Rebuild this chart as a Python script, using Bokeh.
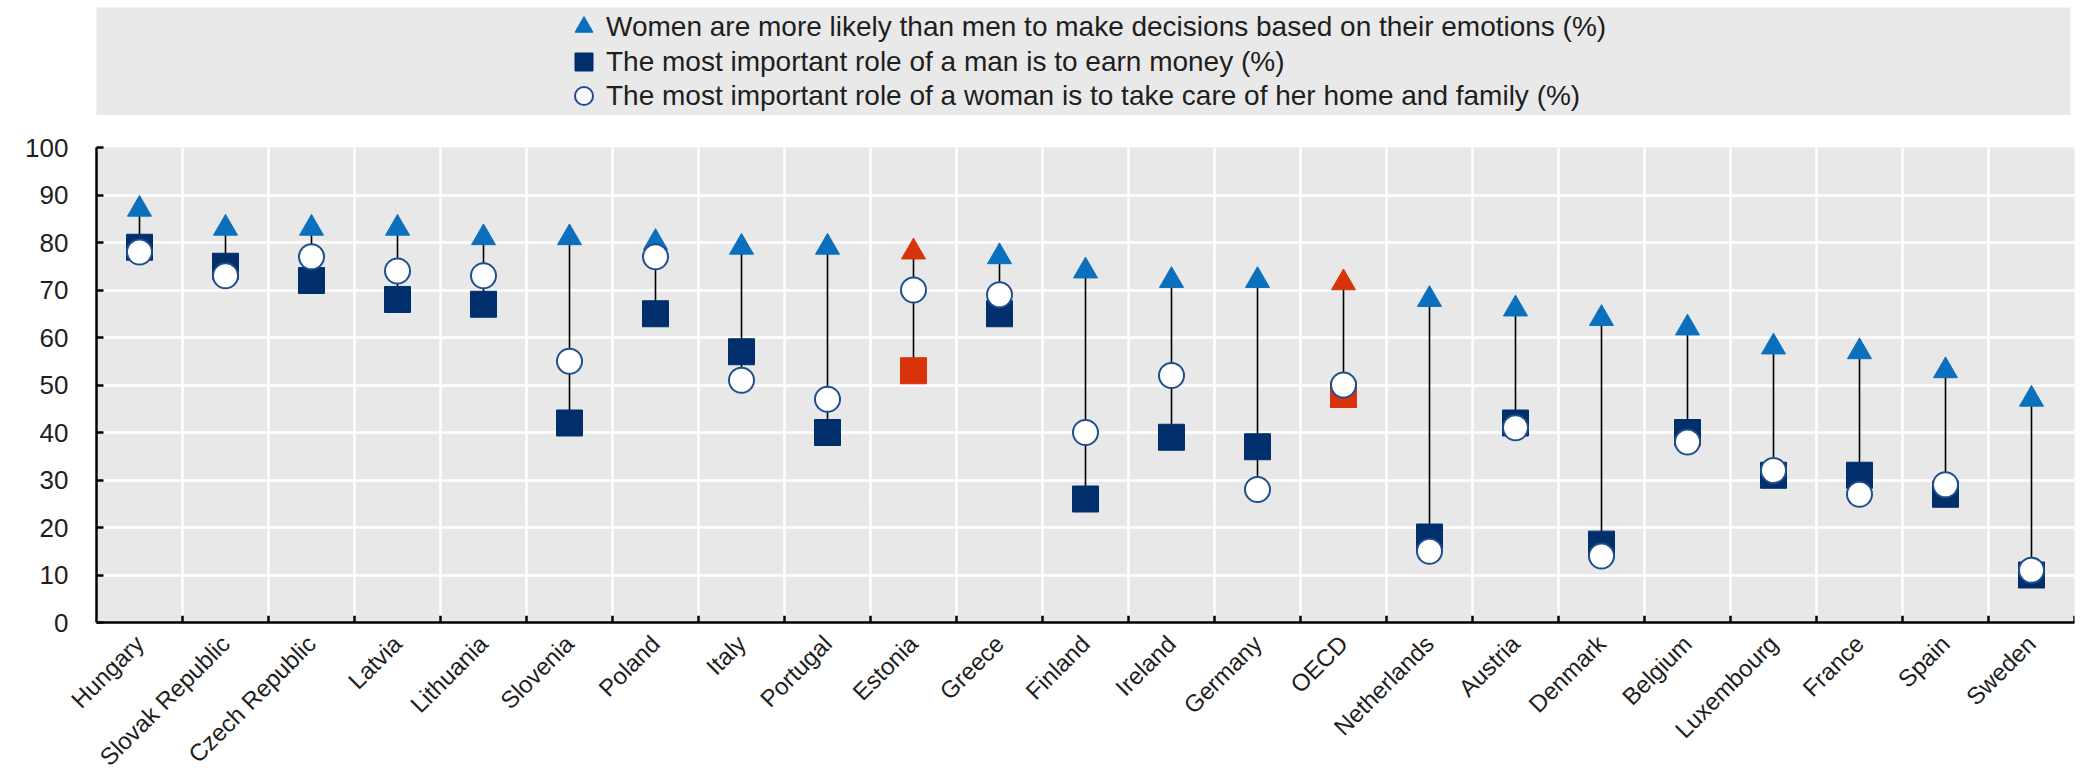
from bokeh.plotting import figure
from bokeh.models import Range1d, FixedTicker, Legend, LegendItem, ColumnDataSource
from bokeh.layouts import column
from bokeh.embed import file_html
from bokeh.resources import INLINE

# ---------------- data ----------------
countries = ["Hungary", "Slovak Republic", "Czech Republic", "Latvia", "Lithuania",
             "Slovenia", "Poland", "Italy", "Portugal", "Estonia", "Greece", "Finland",
             "Ireland", "Germany", "OECD", "Netherlands", "Austria", "Denmark",
             "Belgium", "Luxembourg", "France", "Spain", "Sweden"]
emotions = [87, 83, 83, 83, 81, 81, 80, 79, 79, 78, 77, 74, 72, 72, 71.5, 68, 66, 64,
            62, 58, 57, 53, 47]
man_earn = [79, 75, 72, 68, 67, 42, 65, 57, 40, 53, 65, 26, 39, 37, 48, 18, 42, 16.5,
            40, 31, 31, 27, 10]
woman_home = [78, 73, 77, 74, 73, 55, 77, 51, 47, 70, 69, 40, 52, 28, 50, 15, 41, 14,
              38, 32, 27, 29, 11]
highlight = ["Estonia", "OECD"]
y_ticks = [0, 10, 20, 30, 40, 50, 60, 70, 80, 90, 100]
legend_labels = [
    "Women are more likely than men to make decisions based on their emotions (%)",
    "The most important role of a man is to earn money (%)",
    "The most important role of a woman is to take care of her home and family (%)",
]

# ---------------- styles ----------------
FONT = "Liberation Sans"
TXT = "#1e1e1e"
BLUE = "#0a6fbd"
NAVY = "#002f6c"
RED = "#d8330a"
CIRC_LINE = "#1f4e8c"
BG = "#e8e8e8"

n = len(countries)
xs = list(range(n))
low = [min(a, b) for a, b in zip(man_earn, woman_home)]
tri_color = [RED if c in highlight else BLUE for c in countries]
sq_color = [RED if c in highlight else NAVY for c in countries]

src = ColumnDataSource(dict(x=xs, emo=emotions, man=man_earn, woman=woman_home,
                            low=low, tri_color=tri_color, sq_color=sq_color))

# ---------------- main chart ----------------
p = figure(frame_width=1978, frame_height=475,
           x_range=Range1d(-0.5, n - 0.5), y_range=Range1d(0, 100),
           output_backend="svg", toolbar_location=None,
           min_border_left=92, min_border_right=6, min_border_top=32, min_border_bottom=149,
           background_fill_color=BG, border_fill_color="white", outline_line_color=None)

p.xgrid.ticker = FixedTicker(ticks=[i + 0.5 for i in range(n - 1)])
p.ygrid.ticker = FixedTicker(ticks=y_ticks)
for g in (p.xgrid, p.ygrid):
    g.grid_line_color = "white"
    g.grid_line_width = 2.5

xa = p.xaxis[0]
xa.ticker = FixedTicker(ticks=xs)
xa.major_label_overrides = {i: c for i, c in zip(xs, countries)}
xa.major_label_orientation = 0.785
xa.major_tick_line_color = None
xa.major_tick_in = 0
xa.major_tick_out = 0
xa.minor_tick_line_color = None
xa.minor_tick_out = 0
xa.axis_line_color = "black"
xa.axis_line_width = 2.5
xa.major_label_text_font = FONT
xa.major_label_text_font_size = "24px"
xa.major_label_text_color = TXT
xa.major_label_standoff = 17

ya = p.yaxis[0]
ya.ticker = FixedTicker(ticks=y_ticks)
ya.major_tick_in = 7
ya.major_tick_out = 0
ya.minor_tick_out = 0
ya.major_tick_line_width = 2.5
ya.major_tick_line_color = "black"
ya.minor_tick_line_color = None
ya.axis_line_color = "black"
ya.axis_line_width = 2.5
ya.major_label_text_font = FONT
ya.major_label_text_font_size = "26px"
ya.major_label_text_color = TXT
ya.major_label_standoff = 28

# category boundary ticks on the x axis (pointing up)
bounds = [i + 0.5 for i in range(n)]
p.segment(x0=bounds, y0=[0] * n, x1=bounds, y1=[1.4] * n, line_color="black", line_width=2.5)

# connectors and markers
p.segment(x0="x", y0="emo", x1="x", y1="low", source=src, line_color="black", line_width=1.6)
p.scatter("x", "emo", source=src, marker="triangle", size=24,
          fill_color="tri_color", line_color="tri_color")
p.scatter("x", "man", source=src, marker="square", size=26,
          fill_color="sq_color", line_color="sq_color")
p.scatter("x", "woman", source=src, marker="circle", size=25,
          fill_color="white", line_color=CIRC_LINE, line_width=2)

# ---------------- legend box ----------------
lg = figure(width=2076, height=115, x_range=Range1d(0, 1), y_range=Range1d(0, 1),
            output_backend="svg", toolbar_location=None,
            x_axis_type=None, y_axis_type=None,
            min_border_left=96, min_border_right=0, min_border_top=7, min_border_bottom=0,
            background_fill_color="#e9e9e9", border_fill_color="white", outline_line_color=None)
r1 = lg.scatter(x=[-5], y=[-5], marker="triangle", fill_color=BLUE, line_color=BLUE)
r2 = lg.scatter(x=[-5], y=[-5], marker="square", fill_color=NAVY, line_color=NAVY)
r3 = lg.scatter(x=[-5], y=[-5], marker="circle", fill_color="white", line_color=CIRC_LINE,
                line_width=2)

for label, rend, yoff in zip(legend_labels, [r1, r2, r3], [66, 31, -3]):
    leg = Legend(items=[LegendItem(label=label, renderers=[rend])],
                 location=(465, yoff), orientation="vertical",
                 background_fill_alpha=0, border_line_color=None,
                 label_text_font=FONT, label_text_font_size="28px", label_text_color=TXT,
                 glyph_width=45, glyph_height=45, label_height=20, label_standoff=-3,
                 spacing=0, padding=0, margin=0)
    lg.add_layout(leg)

layout = column(lg, p)
page_css = "{% block postamble %}<style>html, body { overflow: hidden; }</style>{% endblock %}"
open("out.html", "w").write(file_html(layout, INLINE, template=page_css))
